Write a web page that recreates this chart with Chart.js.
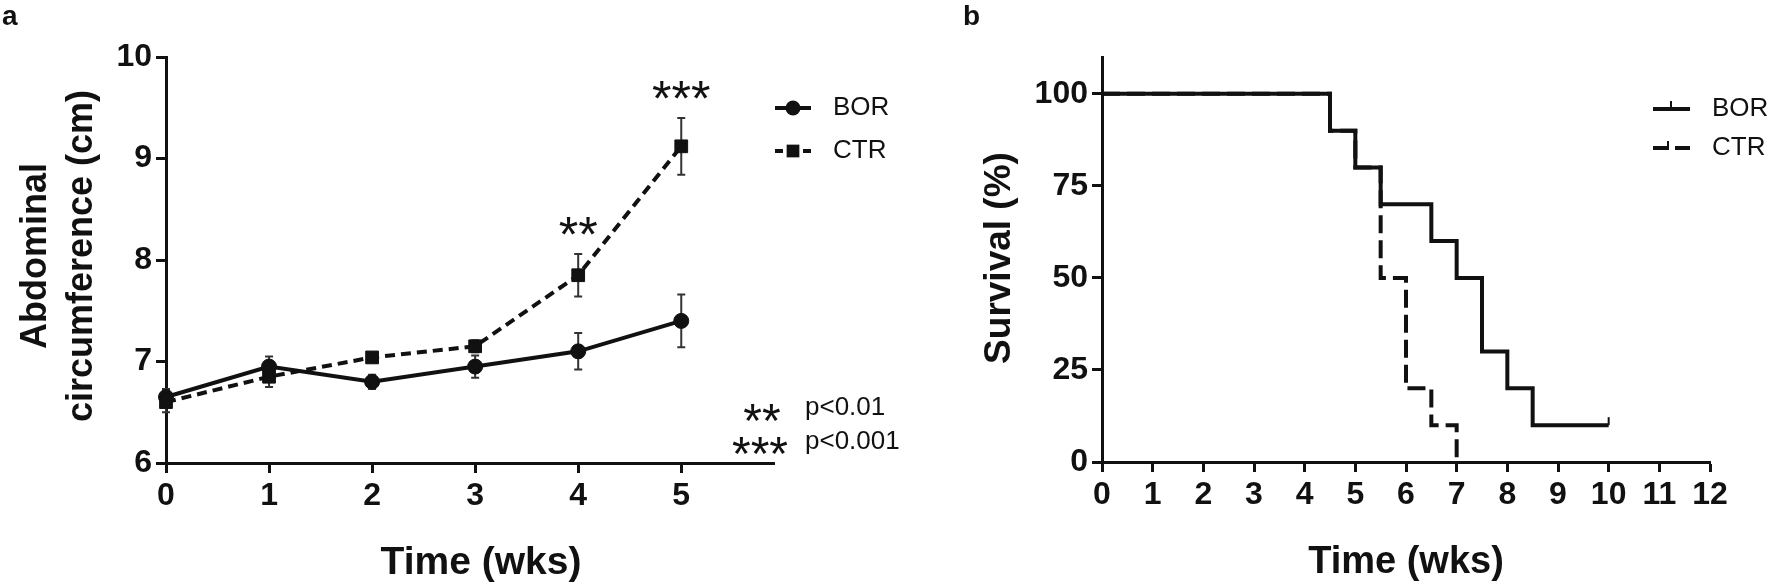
<!DOCTYPE html>
<html>
<head>
<meta charset="utf-8">
<script src="https://cdn.jsdelivr.net/npm/chart.js@4.4.1/dist/chart.umd.min.js"></script>
<style>
html, body { margin: 0; padding: 0; background: #fff; overflow: hidden; }
#wrap { position: relative; width: 1770px; height: 586px; }
canvas { position: absolute; top: 0; }
#chartA { left: 0; }
#chartB { left: 885px; }
</style>
</head>
<body>
<div id="wrap">
  <canvas id="chartA" width="960" height="586"></canvas>
  <canvas id="chartB" width="885" height="586"></canvas>
</div>
<script>
// ---- panel a : abdominal circumference ----
var weeks = [0, 1, 2, 3, 4, 5];
var borMean = [6.65, 6.95, 6.8, 6.95, 7.1, 7.4];
var borErr = [0.08, 0.1, 0.07, 0.11, 0.18, 0.26];
var ctrMean = [6.6, 6.85, 7.04, 7.15, 7.85, 9.12];
var ctrErr = [0.1, 0.1, 0.03, 0.06, 0.21, 0.28];
var sigMarks = ["", "", "", "", "**", "***"];
var yTicksA = [6, 7, 8, 9, 10];

// ---- panel b : survival ----
var borTime = [0, 4.5, 5, 5.5, 6.5, 7, 7.5, 8, 8.5, 10];
var borSurv = [100, 90, 80, 70, 60, 50, 30, 20, 10, 10];
var borCensor = [10];
var ctrTime = [0, 4.5, 5, 5.5, 6, 6.5, 7];
var ctrSurv = [100, 90, 80, 50, 20, 10, 0];
var xTicksB = [0, 1, 2, 3, 4, 5, 6, 7, 8, 9, 10, 11, 12];
var yTicksB = [0, 25, 50, 75, 100];

var ink = "#111";
var fam = "'Liberation Sans', Arial, sans-serif";
var tickFont = { family: fam, size: 32, weight: "bold" };

function pts(xs, ys) {
  return xs.map(function (x, i) { return { x: x, y: ys[i] }; });
}

function axisOpts(min, max, tickList, fit) {
  return {
    type: "linear",
    min: min,
    max: max,
    afterBuildTicks: function (s) { s.ticks = tickList.map(function (v) { return { value: v }; }); },
    afterFit: fit,
    grid: { drawOnChartArea: false, drawTicks: true, tickLength: 10, tickWidth: 3, tickColor: ink },
    border: { display: true, width: 3, color: ink },
    ticks: { font: tickFont, color: ink, padding: 4, maxRotation: 0, autoSkip: false }
  };
}

function text(ctx, str, x, y, font, align) {
  ctx.save();
  ctx.font = font;
  ctx.fillStyle = ink;
  ctx.textAlign = align || "left";
  ctx.textBaseline = "middle";
  ctx.fillText(str, x, y);
  ctx.restore();
}

function vtext(ctx, str, x, y, font) {
  ctx.save();
  ctx.translate(x, y);
  ctx.rotate(-Math.PI / 2);
  text(ctx, str, 0, 0, font, "center");
  ctx.restore();
}

// asterisks sit high in the em box, so place them by baseline
function stars(ctx, str, x, y, size, align) {
  ctx.save();
  ctx.font = size + "px " + fam;
  ctx.fillStyle = ink;
  ctx.textAlign = align || "center";
  ctx.textBaseline = "alphabetic";
  ctx.fillText(str, x, y + size * 0.57);
  ctx.restore();
}

var errorBars = {
  id: "errorBars",
  beforeDatasetsDraw: function (chart) {
    var ctx = chart.ctx, xs = chart.scales.x, ys = chart.scales.y;
    var sets = [[borMean, borErr], [ctrMean, ctrErr]];
    ctx.save();
    ctx.strokeStyle = "#333";
    ctx.lineWidth = 2;
    sets.forEach(function (s) {
      weeks.forEach(function (w, i) {
        var px = xs.getPixelForValue(w);
        var top = ys.getPixelForValue(s[0][i] + s[1][i]);
        var bot = ys.getPixelForValue(s[0][i] - s[1][i]);
        ctx.beginPath();
        ctx.moveTo(px, top); ctx.lineTo(px, bot);
        ctx.moveTo(px - 4, top); ctx.lineTo(px + 4, top);
        ctx.moveTo(px - 4, bot); ctx.lineTo(px + 4, bot);
        ctx.stroke();
      });
    });
    ctx.restore();
  }
};

var decorA = {
  id: "decorA",
  afterDraw: function (chart) {
    var ctx = chart.ctx, xs = chart.scales.x, ys = chart.scales.y;
    text(ctx, "a", 2, 17, "bold 28px " + fam);
    vtext(ctx, "Abdominal", 36, 256, "bold 36px " + fam);
    vtext(ctx, "circumference (cm)", 82, 256, "bold 36px " + fam);
    text(ctx, "Time (wks)", 481, 563, "bold 39px " + fam, "center");

    sigMarks.forEach(function (m, i) {
      if (!m) return;
      var px = xs.getPixelForValue(weeks[i]);
      var py = ys.getPixelForValue(ctrMean[i] + ctrErr[i]) - 30;
      stars(ctx, m, px, py, 50);
    });

    // legend
    var ds = chart.data.datasets;
    var rows = [108, 151];
    ds.forEach(function (d, i) {
      var y = rows[i];
      ctx.save();
      ctx.strokeStyle = d.borderColor;
      ctx.lineWidth = d.borderWidth;
      ctx.setLineDash(d.borderDash ? [8, 6] : []);
      ctx.beginPath(); ctx.moveTo(775, y); ctx.lineTo(811, y); ctx.stroke();
      ctx.setLineDash([]);
      ctx.fillStyle = d.backgroundColor;
      if (d.pointStyle === "rect") {
        var h = d.pointRadius * Math.SQRT1_2;
        ctx.fillRect(793 - h, y - h, 2 * h, 2 * h);
      } else {
        ctx.beginPath(); ctx.arc(793, y, d.pointRadius, 0, Math.PI * 2); ctx.fill();
      }
      ctx.restore();
      text(ctx, d.label, 833, y, "26px " + fam);
    });

    stars(ctx, "**", 762, 410, 48);
    stars(ctx, "***", 760, 443, 48);
    text(ctx, "p<0.01", 805, 408, "26px " + fam);
    text(ctx, "p<0.001", 805, 442, "26px " + fam);
  }
};

new Chart(document.getElementById("chartA"), {
  type: "line",
  data: {
    datasets: [
      {
        label: "BOR",
        data: pts(weeks, borMean),
        borderColor: ink,
        backgroundColor: ink,
        borderWidth: 4,
        pointStyle: "circle",
        pointRadius: 7.5,
        pointBorderWidth: 1,
        clip: false
      },
      {
        label: "CTR",
        data: pts(weeks, ctrMean),
        borderColor: ink,
        backgroundColor: ink,
        borderWidth: 4,
        borderDash: [10, 6],
        pointStyle: "rect",
        pointRadius: 9,
        pointBorderWidth: 1,
        clip: false
      }
    ]
  },
  options: {
    responsive: false,
    animation: false,
    devicePixelRatio: 1,
    layout: { padding: { left: 0, top: 57, right: 186, bottom: 0 } },
    plugins: { legend: { display: false }, tooltip: { enabled: false } },
    scales: {
      x: axisOpts(0, 5.9, weeks, function (s) { s.height = 123; }),
      y: axisOpts(6, 10, yTicksA, function (s) { s.width = 166; })
    }
  },
  plugins: [errorBars, decorA]
});

var decorB = {
  id: "decorB",
  afterDraw: function (chart) {
    var ctx = chart.ctx, xs = chart.scales.x, ys = chart.scales.y;
    text(ctx, "b", 78, 17, "bold 28px " + fam);
    vtext(ctx, "Survival (%)", 115, 258, "bold 37px " + fam);
    text(ctx, "Time (wks)", 521, 563, "bold 38px " + fam, "center");

    // censor marks
    ctx.save();
    ctx.strokeStyle = ink;
    ctx.lineWidth = 2;
    borCensor.forEach(function (t) {
      var px = xs.getPixelForValue(t);
      var py = ys.getPixelForValue(borSurv[borSurv.length - 1]);
      ctx.beginPath(); ctx.moveTo(px, py); ctx.lineTo(px, py - 8); ctx.stroke();
    });
    ctx.restore();

    // legend
    var ds = chart.data.datasets;
    var rows = [109, 148];
    ds.forEach(function (d, i) {
      var y = rows[i];
      ctx.save();
      ctx.strokeStyle = d.borderColor;
      ctx.lineWidth = d.borderWidth;
      ctx.setLineDash(d.borderDash ? [16, 6] : []);
      ctx.beginPath(); ctx.moveTo(768, y); ctx.lineTo(805, y); ctx.stroke();
      ctx.setLineDash([]);
      ctx.lineWidth = 2;
      ctx.beginPath();
      if (d.borderDash) { ctx.moveTo(783, y); ctx.lineTo(783, y - 7); }
      else { ctx.moveTo(786, y); ctx.lineTo(786, y - 8); }
      ctx.stroke();
      ctx.restore();
      text(ctx, d.label, 827, y, "26px " + fam);
    });
  }
};

new Chart(document.getElementById("chartB"), {
  type: "line",
  data: {
    datasets: [
      {
        label: "BOR",
        data: pts(borTime, borSurv),
        borderColor: ink,
        borderWidth: 4,
        stepped: true,
        pointRadius: 0,
        clip: false
      },
      {
        label: "CTR",
        data: pts(ctrTime, ctrSurv),
        borderColor: ink,
        borderWidth: 4,
        borderDash: [18, 7],
        stepped: true,
        pointRadius: 0,
        clip: false
      }
    ]
  },
  options: {
    responsive: false,
    animation: false,
    devicePixelRatio: 1,
    layout: { padding: { left: 0, top: 57, right: 60, bottom: 0 } },
    plugins: { legend: { display: false }, tooltip: { enabled: false } },
    scales: {
      x: axisOpts(0, 12, xTicksB, function (s) { s.height = 124; }),
      y: axisOpts(0, 110, yTicksB, function (s) { s.width = 217; })
    }
  },
  plugins: [decorB]
});
</script>
</body>
</html>
